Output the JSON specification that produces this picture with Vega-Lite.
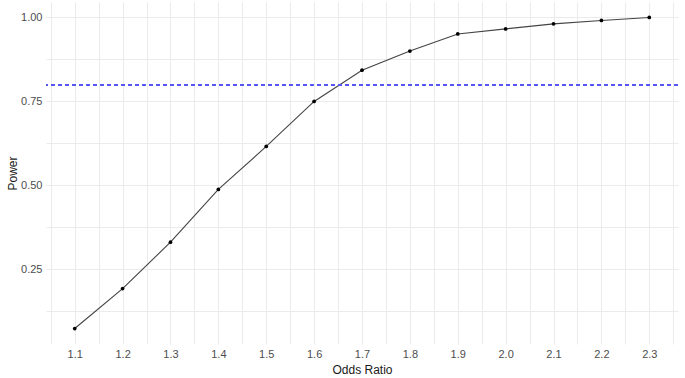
{
  "$schema": "https://vega.github.io/schema/vega-lite/v6.json",
  "width": 632,
  "height": 342,
  "autosize": {"type": "none"},
  "padding": {"left": 46, "top": 2, "right": 7, "bottom": 34},
  "background": "white",
  "config": {
    "view": {"stroke": null},
    "font": "Liberation Sans",
    "axis": {
      "domain": false,
      "ticks": false,
      "gridColor": "#ebebeb",
      "gridWidth": 1,
      "labelFont": "Liberation Sans",
      "labelFontSize": 11,
      "labelColor": "#4d4d4d",
      "titleFont": "Liberation Sans",
      "titleFontSize": 12,
      "titleFontWeight": "normal",
      "titleColor": "#1a1a1a"
    }
  },
  "data": {
    "values": [
      {"or": 1.1, "power": 0.074},
      {"or": 1.2, "power": 0.193},
      {"or": 1.3, "power": 0.331},
      {"or": 1.4, "power": 0.488},
      {"or": 1.5, "power": 0.616},
      {"or": 1.6, "power": 0.75},
      {"or": 1.7, "power": 0.843},
      {"or": 1.8, "power": 0.9},
      {"or": 1.9, "power": 0.951},
      {"or": 2.0, "power": 0.966},
      {"or": 2.1, "power": 0.981},
      {"or": 2.2, "power": 0.991},
      {"or": 2.3, "power": 1.0}
    ]
  },
  "encoding": {
    "x": {
      "field": "or",
      "type": "quantitative",
      "title": "Odds Ratio",
      "scale": {"domain": [1.04, 2.36], "nice": false, "zero": false},
      "axis": {
        "values": [1.05, 1.1, 1.15, 1.2, 1.25, 1.3, 1.35, 1.4, 1.45, 1.5, 1.55, 1.6, 1.65, 1.7, 1.75, 1.8, 1.85, 1.9, 1.95, 2.0, 2.05, 2.1, 2.15, 2.2, 2.25, 2.3, 2.35],
        "labelExpr": "abs(datum.value*10 - round(datum.value*10)) < 0.01 ? format(datum.value, '.1f') : ''",
        "labelPadding": 4,
        "labelOverlap": false,
        "labelFlush": false,
        "titleY": 25,
        "titleBaseline": "middle"
      }
    },
    "y": {
      "field": "power",
      "type": "quantitative",
      "title": "Power",
      "scale": {"domain": [0.028, 1.046], "nice": false, "zero": false},
      "axis": {
        "values": [0.125, 0.25, 0.375, 0.5, 0.625, 0.75, 0.875, 1.0],
        "labelExpr": "abs(datum.value*4 - round(datum.value*4)) < 0.01 ? format(datum.value, '.2f') : ''",
        "labelPadding": 4,
        "labelOverlap": false,
        "labelFlush": false,
        "titleX": -34,
        "titleBaseline": "middle"
      }
    }
  },
  "layer": [
    {"mark": {"type": "line", "color": "#444444", "strokeWidth": 1.1}},
    {"mark": {"type": "point", "filled": true, "color": "black", "size": 14, "opacity": 1}},
    {
      "mark": {"type": "rule", "color": "#5555f0", "strokeDash": [4, 3], "strokeWidth": 1.1},
      "encoding": {"y": {"datum": 0.8}, "x": null}
    }
  ]
}
